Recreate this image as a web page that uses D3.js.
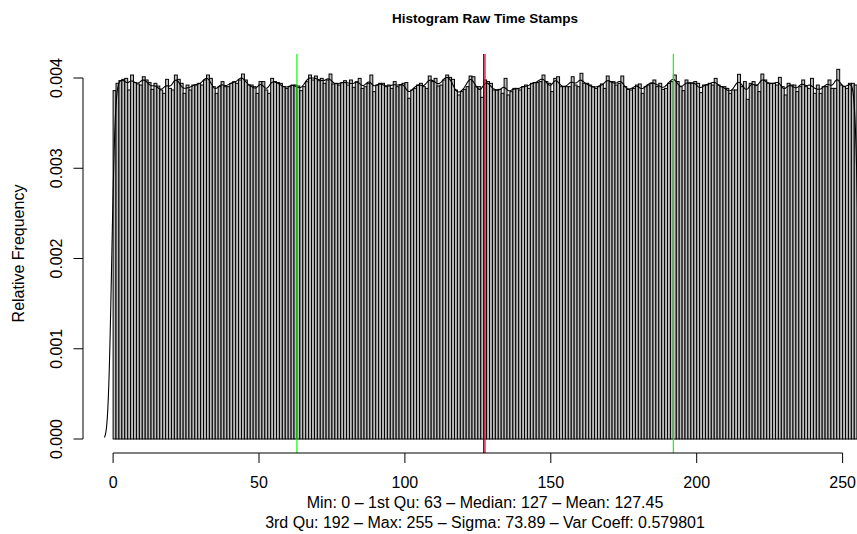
<!DOCTYPE html>
<html>
<head>
<meta charset="utf-8">
<script src="https://cdn.jsdelivr.net/npm/d3@7"></script>
<style>
  body { margin: 0; background: #fff; }
  svg { display: block; font-family: "Liberation Sans", Arial, sans-serif; }
</style>
</head>
<body>
<div id="chart"></div>
<script>
// relative frequency of each time stamp value 0..255, in units of 1e-6
const relFreqMicro = [
  3860, 3941, 3971, 3985, 3996, 3867, 4033, 3949, 3934, 3922,
  4014, 3978, 3949, 3874, 3941, 3911, 3867, 3830, 3985, 3885,
  3867, 4033, 3985, 3941, 3830, 3922, 3867, 3922, 3922, 3941,
  3922, 3978, 4033, 3996, 3904, 3830, 3904, 3960, 3904, 3904,
  3941, 3960, 3941, 3978, 4044, 3978, 3922, 3922, 3904, 3830,
  3960, 3960, 3867, 3830, 3996, 3960, 3949, 3941, 3904, 3885,
  3904, 3922, 3922, 3911, 3860, 3904, 3959, 4033, 3978, 4022,
  3970, 3996, 3941, 3978, 4044, 3934, 3941, 3922, 3948, 3970,
  3922, 3978, 3897, 3959, 3996, 3885, 3904, 3941, 4033, 3849,
  3922, 3941, 3941, 3904, 3922, 3885, 3960, 3904, 3922, 3941,
  3949, 3775, 3867, 3885, 3922, 3941, 3904, 3885, 4022, 3960,
  3996, 3911, 3922, 3978, 4033, 4007, 3985, 3867, 3812, 3849,
  3874, 3904, 4022, 4014, 3904, 3904, 3786, 3978, 3960, 3941,
  3867, 3867, 3874, 3830, 3996, 3812, 3849, 3885, 3885, 3867,
  3904, 3922, 3885, 3941, 3949, 3949, 3960, 4033, 3960, 3941,
  3849, 3996, 4014, 3904, 3904, 3904, 3904, 4014, 3922, 3904,
  4052, 3941, 3941, 3922, 3904, 3885, 3904, 3934, 3885, 4022,
  3959, 3959, 3922, 3941, 4022, 3904, 3874, 3867, 3885, 3922,
  3934, 3830, 3904, 3922, 3940, 3978, 3904, 3941, 3874, 3885,
  3941, 3960, 4033, 3960, 3904, 3860, 3978, 3941, 3941, 3960,
  3941, 3838, 3922, 3922, 3941, 3922, 3996, 3922, 3904, 3904,
  3885, 3830, 3867, 3867, 4041, 3904, 3960, 3764, 3941, 3960,
  3922, 3849, 4044, 3978, 3941, 3941, 3941, 3922, 4007, 3904,
  3812, 3941, 3922, 3922, 3849, 3904, 3978, 3904, 3885, 3996,
  3830, 3922, 3830, 3904, 3904, 3978, 3885, 3885, 4096, 3922,
  3904, 3885, 3941, 3941, 3922, 3904
];
const bins = relFreqMicro.map((v, i) => ({ x0: i, x1: i + 1, freq: v / 1e6 }));

const xTicks = [0, 50, 100, 150, 200, 250];
const yTicks = [0, 0.001, 0.002, 0.003, 0.004];

const quartileLines = [63, 192];
const medianValue = 127;
const meanValue = 127.45;
const bandwidth = 1;
const densityRange = [-3, 258];

const title = "Histogram Raw Time Stamps";
const yLabel = "Relative Frequency";
const subLines = [
  "Min: 0 \u2013 1st Qu: 63 \u2013 Median: 127 \u2013 Mean: 127.45",
  "3rd Qu: 192 \u2013 Max: 255 \u2013 Sigma: 73.89 \u2013 Var Coeff: 0.579801"
];

const W = 857, H = 534;
const plot = { left: 83, right: 887, top: 54, bottom: 453 };

const x = d3.scaleLinear().domain([0, 250]).range([113.1, 842.6]);
const y = d3.scaleLinear().domain([0, 0.004]).range([439, 78]);

const svg = d3.select("#chart").append("svg")
  .attr("width", W).attr("height", H);

svg.append("clipPath").attr("id", "plotclip")
  .append("rect")
  .attr("x", plot.left).attr("y", plot.top)
  .attr("width", plot.right - plot.left).attr("height", plot.bottom - plot.top);

const g = svg.append("g").attr("clip-path", "url(#plotclip)");

// bars
g.selectAll("rect.bar").data(bins).join("rect")
  .attr("class", "bar")
  .attr("x", d => x(d.x0))
  .attr("width", d => x(d.x1) - x(d.x0))
  .attr("y", d => y(d.freq))
  .attr("height", d => y(0) - y(d.freq))
  .attr("fill", "#bebebe")
  .attr("stroke", "#000")
  .attr("stroke-width", 1);

// kernel density of the binned values
const gauss = u => Math.exp(-0.5 * u * u) / Math.sqrt(2 * Math.PI);
const densPts = d3.range(densityRange[0], densityRange[1] + 0.01, 0.2).map(t => [
  t, d3.sum(bins, d => d.freq * gauss((t - d.x0) / bandwidth) / bandwidth)
]);
g.append("path")
  .datum(densPts)
  .attr("fill", "none")
  .attr("stroke", "#000")
  .attr("stroke-width", 1.1)
  .attr("d", d3.line().x(d => x(d[0])).y(d => y(d[1])));

// reference lines
const vline = (v, color) => g.append("line")
  .attr("x1", x(v)).attr("x2", x(v))
  .attr("y1", plot.top).attr("y2", plot.bottom)
  .attr("stroke", color).attr("stroke-width", 1.2);
quartileLines.forEach(v => vline(v, "#00ff00"));
vline(medianValue, "#0000ff");
vline(meanValue, "#ff0000");

// x axis
const ax = svg.append("g");
ax.append("line")
  .attr("x1", x(0)).attr("x2", x(250))
  .attr("y1", plot.bottom).attr("y2", plot.bottom)
  .attr("stroke", "#000");
ax.selectAll("line.tick").data(xTicks).join("line")
  .attr("class", "tick")
  .attr("x1", d => x(d)).attr("x2", d => x(d))
  .attr("y1", plot.bottom).attr("y2", plot.bottom + 10)
  .attr("stroke", "#000");
ax.selectAll("text").data(xTicks).join("text")
  .attr("x", d => x(d)).attr("y", 488)
  .attr("text-anchor", "middle")
  .attr("font-size", 16)
  .text(d => d);

// y axis
const ay = svg.append("g");
ay.append("line")
  .attr("x1", plot.left).attr("x2", plot.left)
  .attr("y1", y(0)).attr("y2", y(0.004))
  .attr("stroke", "#000");
ay.selectAll("line.tick").data(yTicks).join("line")
  .attr("class", "tick")
  .attr("x1", plot.left - 9.5).attr("x2", plot.left)
  .attr("y1", d => y(d)).attr("y2", d => y(d))
  .attr("stroke", "#000");
ay.selectAll("text").data(yTicks).join("text")
  .attr("transform", d => `translate(62,${y(d)}) rotate(-90)`)
  .attr("text-anchor", "middle")
  .attr("font-size", 16)
  .text(d => d3.format(".3f")(d));

// labels
svg.append("text")
  .attr("transform", `translate(24,${(plot.top + plot.bottom) / 2}) rotate(-90)`)
  .attr("text-anchor", "middle")
  .attr("font-size", 16)
  .text(yLabel);

svg.append("text")
  .attr("x", (plot.left + plot.right) / 2).attr("y", 23)
  .attr("text-anchor", "middle")
  .attr("font-size", 13.5)
  .attr("font-weight", "bold")
  .text(title);

svg.selectAll("text.sub").data(subLines).join("text")
  .attr("class", "sub")
  .attr("x", (plot.left + plot.right) / 2)
  .attr("y", (d, i) => 508 + i * 19.5)
  .attr("text-anchor", "middle")
  .attr("font-size", 16)
  .text(d => d);
</script>
</body>
</html>
